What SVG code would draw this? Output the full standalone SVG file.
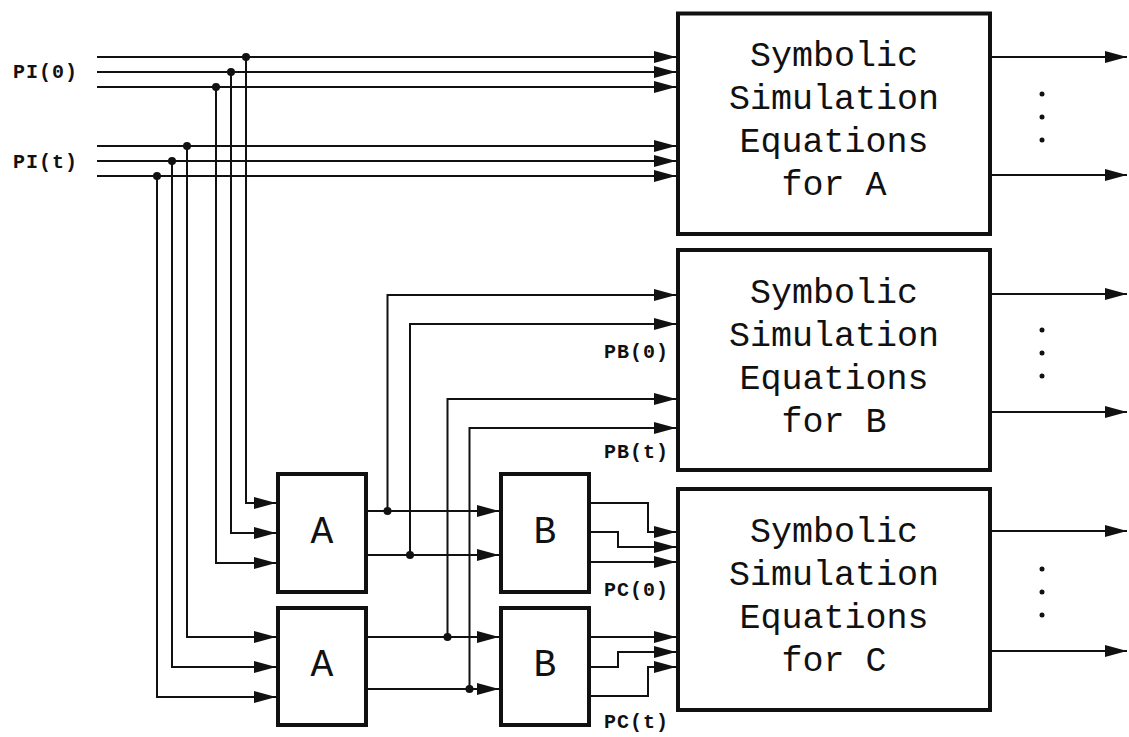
<svg xmlns="http://www.w3.org/2000/svg" width="1129" height="737" viewBox="0 0 1129 737">
<style>
.box{fill:#fff;stroke:#111;stroke-width:4}
.w{fill:none;stroke:#111;stroke-width:2}
.a{marker-end:url(#ah)}
.dot{fill:#111}
.big{font-family:"Liberation Mono",monospace;font-size:35px;fill:#111;text-anchor:middle}
.sm{font-family:"Liberation Mono",monospace;font-size:38px;fill:#111;text-anchor:middle}
.lbl{font-family:"Liberation Mono",monospace;font-size:20px;font-weight:bold;fill:#111;letter-spacing:1px}
</style>
<defs>
<marker id="ah" markerUnits="userSpaceOnUse" markerWidth="22" markerHeight="12" refX="22" refY="6" orient="auto">
<path d="M0,0 L22,6 L0,12 z" fill="#111"/>
</marker>
</defs>
<rect width="1129" height="737" fill="#fff"/>

<g id="connectors">
<path class="w a" d="M97,57 H676"/>
<path class="w a" d="M97,72 H676"/>
<path class="w a" d="M97,87 H676"/>
<path class="w a" d="M97,146 H676"/>
<path class="w a" d="M97,161 H676"/>
<path class="w a" d="M97,176 H676"/>
<path class="w a" d="M246,57 V503 H276"/>
<path class="w a" d="M231,72 V533 H276"/>
<path class="w a" d="M216,87 V563 H276"/>
<path class="w a" d="M187,146 V637 H276"/>
<path class="w a" d="M172,161 V667 H276"/>
<path class="w a" d="M157,176 V697 H276"/>
<path class="w a" d="M368,511 H499"/>
<path class="w a" d="M368,555 H499"/>
<path class="w a" d="M368,637 H499"/>
<path class="w a" d="M368,689 H499"/>
<path class="w a" d="M387.5,511 V295 H676"/>
<path class="w a" d="M410,555 V324 H676"/>
<path class="w a" d="M447.5,637 V399 H676"/>
<path class="w a" d="M469.5,689 V428 H676"/>
<path class="w a" d="M590,503 H648 V532 H676"/>
<path class="w a" d="M590,532 H618 V547 H676"/>
<path class="w a" d="M590,562 H676"/>
<path class="w a" d="M590,637 H676"/>
<path class="w a" d="M590,667 H618 V652 H676"/>
<path class="w a" d="M590,696 H648 V667 H676"/>
<path class="w a" d="M992,57 H1127"/>
<path class="w a" d="M992,175 H1127"/>
<path class="w a" d="M992,294 H1127"/>
<path class="w a" d="M992,412 H1127"/>
<path class="w a" d="M992,531 H1127"/>
<path class="w a" d="M992,651 H1127"/>
<circle class="dot" cx="246" cy="57" r="4"/>
<circle class="dot" cx="231" cy="72" r="4"/>
<circle class="dot" cx="216" cy="87" r="4"/>
<circle class="dot" cx="187" cy="146" r="4"/>
<circle class="dot" cx="172" cy="161" r="4"/>
<circle class="dot" cx="157" cy="176" r="4"/>
<circle class="dot" cx="387.5" cy="511" r="4"/>
<circle class="dot" cx="410" cy="555" r="4"/>
<circle class="dot" cx="447.5" cy="637" r="4"/>
<circle class="dot" cx="469.5" cy="689" r="4"/>
</g>

<g id="simA">
<rect class="box" x="678" y="13.5" width="312" height="220.5"/>
<text class="big" x="834" y="66">Symbolic</text>
<text class="big" x="834" y="109">Simulation</text>
<text class="big" x="834" y="152">Equations</text>
<text class="big" x="834" y="195">for A</text>
<circle class="dot" cx="1042" cy="94" r="2.5"/>
<circle class="dot" cx="1042" cy="117" r="2.5"/>
<circle class="dot" cx="1042" cy="140" r="2.5"/>
</g>
<g id="simB">
<rect class="box" x="678" y="250" width="312" height="220"/>
<text class="big" x="834" y="302.5">Symbolic</text>
<text class="big" x="834" y="345.5">Simulation</text>
<text class="big" x="834" y="388.5">Equations</text>
<text class="big" x="834" y="431.5">for B</text>
<circle class="dot" cx="1042" cy="330" r="2.5"/>
<circle class="dot" cx="1042" cy="353" r="2.5"/>
<circle class="dot" cx="1042" cy="376" r="2.5"/>
</g>
<g id="simC">
<rect class="box" x="678" y="489" width="312" height="221"/>
<text class="big" x="834" y="541.5">Symbolic</text>
<text class="big" x="834" y="584.5">Simulation</text>
<text class="big" x="834" y="627.5">Equations</text>
<text class="big" x="834" y="670.5">for C</text>
<circle class="dot" cx="1042" cy="569" r="2.5"/>
<circle class="dot" cx="1042" cy="592" r="2.5"/>
<circle class="dot" cx="1042" cy="615" r="2.5"/>
</g>

<g id="A1">
<rect class="box" x="278" y="474" width="88" height="118"/>
<text class="sm" x="322" y="543">A</text>
</g>
<g id="A2">
<rect class="box" x="278" y="608" width="88" height="117"/>
<text class="sm" x="322" y="676">A</text>
</g>
<g id="B1">
<rect class="box" x="501" y="474" width="88" height="118"/>
<text class="sm" x="545" y="543">B</text>
</g>
<g id="B2">
<rect class="box" x="501" y="608" width="88" height="117"/>
<text class="sm" x="545" y="676">B</text>
</g>

<g id="labels">
<text class="lbl" x="13" y="78">PI(0)</text>
<text class="lbl" x="13" y="168">PI(t)</text>
<text class="lbl" x="604" y="358">PB(0)</text>
<text class="lbl" x="604" y="458">PB(t)</text>
<text class="lbl" x="604" y="596">PC(0)</text>
<text class="lbl" x="604" y="728">PC(t)</text>
</g>
</svg>
